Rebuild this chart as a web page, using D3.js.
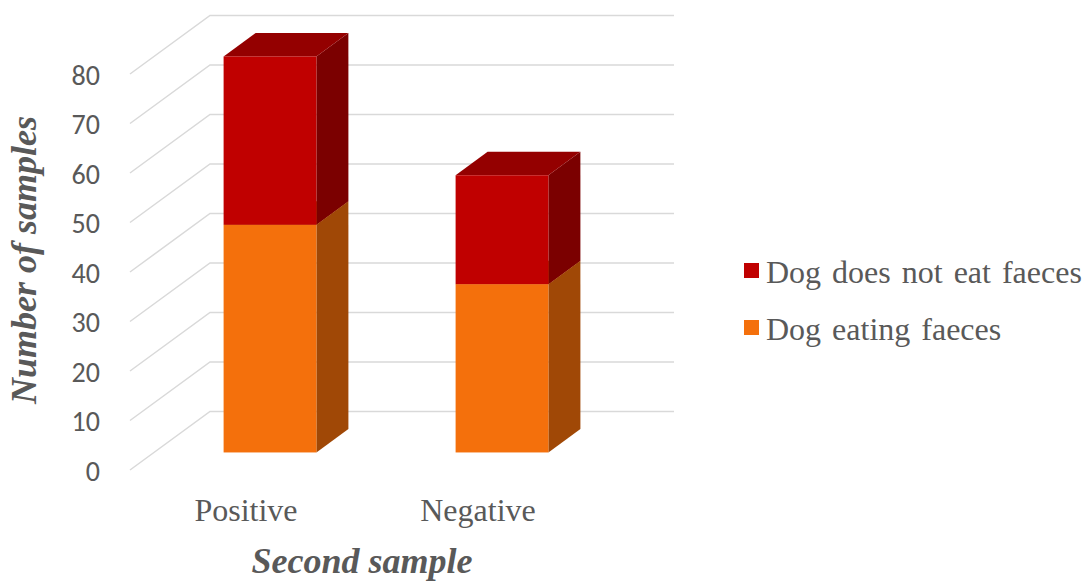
<!DOCTYPE html>
<html>
<head>
<meta charset="utf-8">
<script src="https://cdn.jsdelivr.net/npm/d3@7"></script>
<style>
  html, body { margin: 0; padding: 0; background: #ffffff; }
  svg { display: block; }
</style>
</head>
<body>
<svg id="chart" width="1084" height="581"></svg>
<script>
// ---- data ----
const categories = ["Positive", "Negative"];
const dogEatingFaeces = [46, 34];
const dogDoesNotEatFaeces = [34, 22];
const seriesNames = ["Dog eating faeces", "Dog does not eat faeces"];
const yTickValues = [0, 10, 20, 30, 40, 50, 60, 70, 80];
const yAxisTitle = "Number of samples";
const xAxisTitle = "Second sample";

// ---- layout ----
const svg = d3.select("#chart");
const W = 1084, H = 581;
const DX = 80, DY = 58.5;          // oblique depth offset (front -> back wall)
const zFront = 0.30, zBack = 0.70; // bar depth positions
const textColor = "#595959";

const x = d3.scaleBand().domain(categories).range([130, 594]).padding(0);
const y = d3.scaleLinear().domain([0, 80]).range([470, 74]);
const P = (px, v, z) => [px + DX * z, y(v) - DY * z];

const colors = {
  [seriesNames[0]]: { front: "#F4700C", side: "#A04806", top: "#C45A08" },
  [seriesNames[1]]: { front: "#C00000", side: "#7B0000", top: "#940000" }
};

// ---- gridlines (back wall + side wall) ----
const grid = svg.append("g");
yTickValues.forEach(t => {
  const f = P(x.range()[0], t, 0);
  const b = P(x.range()[0], t, 1);
  const e = P(x.range()[1], t, 1);
  grid.append("path")
    .attr("d", d3.line()([f, b, e]))
    .attr("fill", "none")
    .attr("stroke", "#D9D9D9")
    .attr("stroke-width", 1.5);
});

// ---- y tick labels ----
svg.append("g").selectAll("text").data(yTickValues).join("text")
  .attr("x", 100)
  .attr("y", d => y(d) + 4)
  .attr("text-anchor", "end")
  .attr("dominant-baseline", "middle")
  .attr("font-family", "Carlito, Calibri, 'Liberation Sans', Arial, sans-serif")
  .attr("font-size", 28)
  .attr("fill", textColor)
  .text(d => d);

// ---- stacked 3D bars ----
const rows = categories.map((c, i) => ({
  category: c,
  [seriesNames[0]]: dogEatingFaeces[i],
  [seriesNames[1]]: dogDoesNotEatFaeces[i]
}));
const stacked = d3.stack().keys(seriesNames)(rows);
const barW = x.bandwidth() * 0.4;

const bars = svg.append("g");
categories.forEach((c, ci) => {
  const x0 = x(c) + (x.bandwidth() - barW) / 2;
  const x1 = x0 + barW;
  stacked.forEach(layer => {
    const seg = layer[ci];
    const v0 = seg[0], v1 = seg[1];
    const col = colors[layer.key];
    // right side face
    bars.append("path")
      .attr("d", d3.line()([P(x1, v0, zFront), P(x1, v0, zBack), P(x1, v1, zBack), P(x1, v1, zFront)]) + "Z")
      .attr("fill", col.side);
    // top face
    bars.append("path")
      .attr("d", d3.line()([P(x0, v1, zFront), P(x1, v1, zFront), P(x1, v1, zBack), P(x0, v1, zBack)]) + "Z")
      .attr("fill", col.top);
    // front face
    const a = P(x0, v1, zFront), b = P(x1, v0, zFront);
    bars.append("rect")
      .attr("x", a[0]).attr("y", a[1])
      .attr("width", b[0] - a[0]).attr("height", b[1] - a[1])
      .attr("fill", col.front);
  });
});

// ---- x tick labels ----
svg.append("g").selectAll("text").data(categories).join("text")
  .attr("x", d => x(d) + x.bandwidth() / 2)
  .attr("y", 521)
  .attr("text-anchor", "middle")
  .attr("font-family", "'Liberation Serif', 'Times New Roman', serif")
  .attr("font-size", 32)
  .attr("fill", textColor)
  .text(d => d);

// ---- axis titles ----
svg.append("text")
  .attr("x", (x.range()[0] + x.range()[1]) / 2)
  .attr("y", 573)
  .attr("text-anchor", "middle")
  .attr("font-family", "'Liberation Serif', 'Times New Roman', serif")
  .attr("font-size", 36)
  .attr("font-weight", "bold")
  .attr("font-style", "italic")
  .attr("fill", textColor)
  .text(xAxisTitle);

svg.append("text")
  .attr("transform", "translate(36,260) rotate(-90)")
  .attr("text-anchor", "middle")
  .attr("font-family", "'Liberation Serif', 'Times New Roman', serif")
  .attr("font-size", 36)
  .attr("font-weight", "bold")
  .attr("font-style", "italic")
  .attr("fill", textColor)
  .text(yAxisTitle);

// ---- legend ----
const legendItems = [seriesNames[1], seriesNames[0]];
const legend = svg.append("g").selectAll("g").data(legendItems).join("g")
  .attr("transform", (d, i) => `translate(744, ${283 + i * 57})`);
legend.append("rect")
  .attr("x", 0).attr("y", -20)
  .attr("width", 15).attr("height", 15)
  .attr("fill", d => colors[d].front);
legend.append("text")
  .attr("x", 22).attr("y", 0)
  .attr("font-family", "'Liberation Serif', 'Times New Roman', serif")
  .attr("font-size", 32)
  .attr("word-spacing", 3)
  .attr("fill", textColor)
  .text(d => d);
</script>
</body>
</html>
